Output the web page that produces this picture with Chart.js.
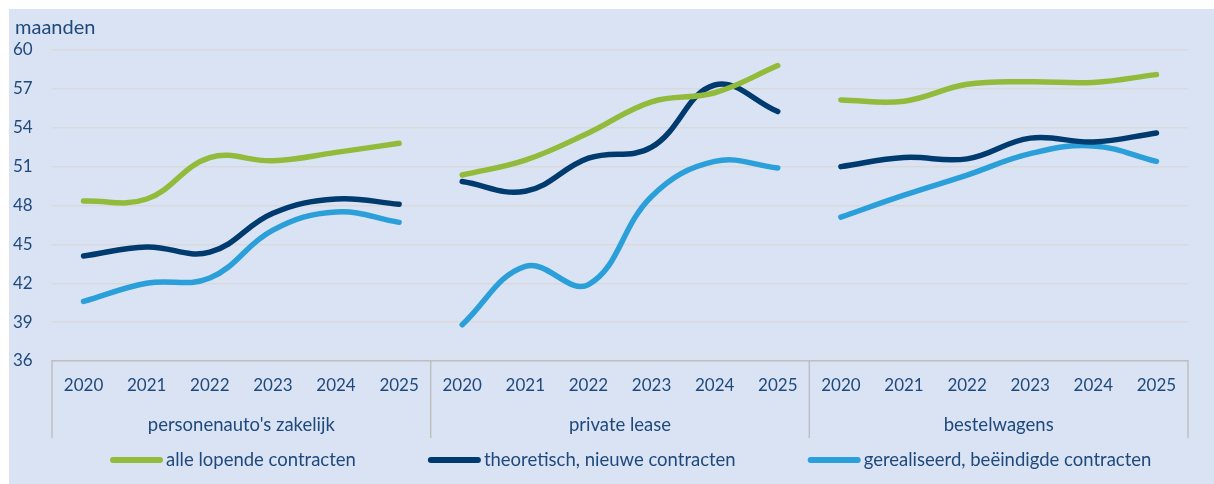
<!DOCTYPE html>
<html>
<head>
<meta charset="utf-8">
<script src="https://cdn.jsdelivr.net/npm/chart.js@4.4.1/dist/chart.umd.min.js"></script>
<style>
  html, body { margin: 0; padding: 0; background: #fff; }
  #wrap { position: absolute; left: 9px; top: 9px; width: 1205px; height: 475px; background: #dae3f3; }
</style>
</head>
<body>
<div id="wrap"><canvas id="chart" width="1205" height="475"></canvas></div>
<script>
// categorieën
const years = ['2020', '2021', '2022', '2023', '2024', '2025'];
const groups = ["personenauto's zakelijk", 'private lease', 'bestelwagens'];
const seriesNames = ['alle lopende contracten', 'theoretisch, nieuwe contracten', 'gerealiseerd, beëindigde contracten'];

// looptijd in maanden, per groep 2020-2025
const alleLopende = [48.35, 48.5, 51.7, 51.45, 52.1, 52.8, 50.35, 51.5, 53.6, 56.0, 56.7, 58.8, 56.15, 56.05, 57.35, 57.55, 57.5, 58.1];
const theoretisch = [44.1, 44.8, 44.4, 47.4, 48.5, 48.1, 49.85, 49.1, 51.65, 52.5, 57.3, 55.25, 51.0, 51.7, 51.6, 53.2, 52.9, 53.6];
const gerealiseerd = [40.6, 42.0, 42.4, 46.1, 47.5, 46.7, 38.8, 43.3, 41.9, 48.7, 51.4, 50.9, 47.1, 48.8, 50.35, 52.0, 52.6, 51.4];

const yTicks = [36, 39, 42, 45, 48, 51, 54, 57, 60];

const colors = ['#93bb3b', '#003b6f', '#2a9fda'];
const textColor = '#1f497d';
const fontFamily = 'Lato, "Open Sans", sans-serif';

const labels = [];
groups.forEach(g => years.forEach(y => labels.push(g + ' ' + y)));

// één dataset per reeks per groep, zodat de lijnen tussen groepen onderbroken zijn
const datasets = [];
[alleLopende, theoretisch, gerealiseerd].forEach((values, s) => {
  groups.forEach((g, gi) => {
    datasets.push({
      label: seriesNames[s],
      data: values.map((v, i) => Math.floor(i / years.length) === gi ? v : null),
      borderColor: colors[s],
      backgroundColor: colors[s],
      borderWidth: 5.5,
      borderCapStyle: 'round',
      borderJoinStyle: 'round',
      pointRadius: 0,
      tension: 0.4,
      spanGaps: false,
    });
  });
});

// groepslabels, scheidingslijnen, eenheid en legenda
const extras = {
  id: 'extras',
  afterDraw(chart) {
    const ctx = chart.ctx;
    const x = chart.scales.x;
    const area = chart.chartArea;
    const band = x.getPixelForValue(1) - x.getPixelForValue(0);
    ctx.save();
    ctx.strokeStyle = '#bfbfbf';
    ctx.lineWidth = 1.5;
    for (let g = 0; g <= groups.length; g++) {
      const px = g < groups.length
        ? x.getPixelForValue(g * years.length) - band / 2
        : x.getPixelForValue(labels.length - 1) + band / 2;
      ctx.beginPath();
      ctx.moveTo(px, area.bottom);
      ctx.lineTo(px, area.bottom + 77);
      ctx.stroke();
    }
    ctx.fillStyle = textColor;
    ctx.font = '18.5px ' + fontFamily;
    ctx.textAlign = 'center';
    ctx.textBaseline = 'middle';
    groups.forEach((g, gi) => {
      const a = x.getPixelForValue(gi * years.length);
      const b = x.getPixelForValue(gi * years.length + years.length - 1);
      ctx.fillText(g, (a + b) / 2, area.bottom + 64);
    });

    ctx.textAlign = 'left';
    ctx.font = '20px ' + fontFamily;
    ctx.fillText('maanden', 6, 19);

    // legenda
    ctx.font = '18.5px ' + fontFamily;
    let lx = 101;
    const ly = 451;
    seriesNames.forEach((name, s) => {
      ctx.strokeStyle = colors[s];
      ctx.lineWidth = 6;
      ctx.lineCap = 'round';
      ctx.beginPath();
      ctx.moveTo(lx + 3, ly);
      ctx.lineTo(lx + 50, ly);
      ctx.stroke();
      ctx.fillStyle = textColor;
      ctx.fillText(name, lx + 56, ly);
      lx += 56 + ctx.measureText(name).width + 72;
    });
    ctx.restore();
  }
};

new Chart(document.getElementById('chart'), {
  type: 'line',
  data: { labels, datasets },
  plugins: [extras],
  options: {
    responsive: false,
    animation: false,
    layout: { padding: { left: 4, top: 41, right: 26, bottom: 0 } },
    plugins: { legend: { display: false }, tooltip: { enabled: false } },
    scales: {
      x: {
        offset: true,
        grid: { display: false, drawTicks: false },
        border: { display: true, color: '#bfbfbf', width: 1.5 },
        ticks: {
          color: textColor,
          font: { family: fontFamily, size: 17 },
          padding: 14,
          maxRotation: 0,
          autoSkip: false,
          callback: (v, i) => years[i % years.length],
        },
        afterFit: s => { s.height = 123; },
      },
      y: {
        min: yTicks[0],
        max: yTicks[yTicks.length - 1],
        afterBuildTicks: s => { s.ticks = yTicks.map(v => ({ value: v })); },
        grid: { color: '#d7d9dc', lineWidth: 1.5, drawTicks: false },
        border: { display: false },
        ticks: {
          color: textColor,
          font: { family: fontFamily, size: 17 },
          crossAlign: 'far',
          padding: 0,
        },
        afterFit: s => { s.width = 39; },
      }
    }
  }
});
</script>
</body>
</html>
